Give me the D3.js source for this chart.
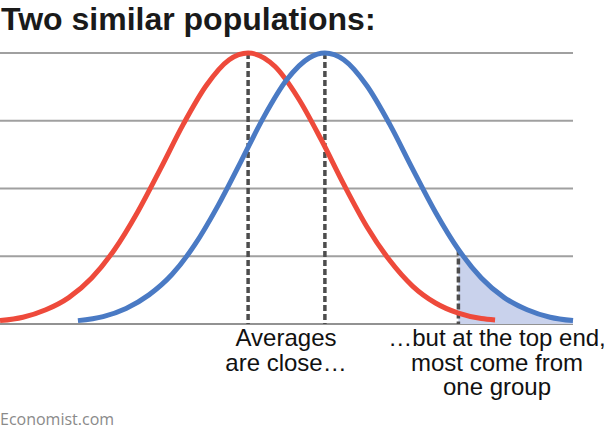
<!DOCTYPE html>
<html>
<head>
<meta charset="utf-8">
<script src="https://cdn.jsdelivr.net/npm/d3@7"></script>
<style>
  body { margin: 0; background: #fff; }
  svg { display: block; }
</style>
</head>
<body>
<svg id="chart"></svg>
<script>
// values (x: arbitrary score units, y: grid units 0-4)
const redX = [0, 4, 8, 12, 16, 20, 24, 28, 32, 36, 40, 43.3, 48, 52, 56, 60, 64, 68, 72, 76, 80, 84, 86.4];
const redY = [0.05, 0.10, 0.21, 0.39, 0.68, 1.10, 1.65, 2.29, 2.95, 3.52, 3.90, 4.00, 3.80, 3.34, 2.73, 2.06, 1.44, 0.94, 0.56, 0.31, 0.16, 0.08, 0.06];
const blueX = [13.6, 18, 22, 26, 30, 34, 38, 42, 46, 50, 54, 56.7, 60, 64, 68, 72, 76, 80, 84, 88, 92, 96, 100];
const blueY = [0.05, 0.11, 0.23, 0.43, 0.73, 1.17, 1.74, 2.39, 3.05, 3.60, 3.93, 4.00, 3.90, 3.52, 2.95, 2.29, 1.65, 1.10, 0.68, 0.39, 0.21, 0.10, 0.05];
const gridValues = [0, 1, 2, 3, 4];
const averages = [43.3, 56.7];
const topCut = 80;

const width = 608;
const height = 439;
const margin = { top: 53, right: 35, bottom: 115, left: 0 };

const svg = d3.select("#chart").attr("width", width).attr("height", height);

const x = d3.scaleLinear()
    .domain([0, 100])
    .range([margin.left, width - margin.right]);

const y = d3.scaleLinear()
    .domain([0, 4])
    .range([height - margin.bottom, margin.top]);

const red = redX.map((v, i) => ({ x: v, y: redY[i] }));
const blue = blueX.map((v, i) => ({ x: v, y: blueY[i] }));

// title
svg.append("text")
    .attr("x", 1)
    .attr("y", 30)
    .attr("font-family", "Liberation Sans, Arial, sans-serif")
    .attr("font-weight", "bold")
    .attr("font-size", "32px")
    .attr("fill", "#1a1a1a")
    .text("Two similar populations:");

// gridlines
svg.append("g")
    .selectAll("line")
    .data(gridValues)
    .join("line")
    .attr("x1", x(0))
    .attr("x2", x(100))
    .attr("y1", d => y(d))
    .attr("y2", d => y(d))
    .attr("stroke", d => d === 0 ? "#6e6e6e" : "#a0a0a0")
    .attr("stroke-width", d => d === 0 ? 1.5 : 2);

const line = d3.line()
    .x(d => x(d.x))
    .y(d => y(d.y))
    .curve(d3.curveMonotoneX);

// shaded top end
const tail = blue.filter(d => d.x >= topCut);
svg.append("path")
    .datum(tail)
    .attr("fill", "#c9d2ec")
    .attr("d", d3.area()
        .x(d => x(d.x))
        .y0(y(0))
        .y1(d => y(d.y))
        .curve(d3.curveMonotoneX));

// dashed markers
const dash = svg.append("g")
    .attr("stroke", "#4d4d4d")
    .attr("stroke-width", 3.5)
    .attr("stroke-dasharray", "6,3");

dash.selectAll("line.avg")
    .data(averages)
    .join("line")
    .attr("class", "avg")
    .attr("x1", d => x(d))
    .attr("x2", d => x(d))
    .attr("y1", y(4))
    .attr("y2", y(0));

dash.append("line")
    .attr("x1", x(topCut))
    .attr("x2", x(topCut))
    .attr("y1", y(blueY[blueX.indexOf(topCut)]))
    .attr("y2", y(0));

// curves
svg.append("path")
    .datum(red)
    .attr("fill", "none")
    .attr("stroke", "#ee4a3b")
    .attr("stroke-width", 5)
    .attr("d", line);

svg.append("path")
    .datum(blue)
    .attr("fill", "none")
    .attr("stroke", "#4a7ac4")
    .attr("stroke-width", 5)
    .attr("d", line);

// annotations
const note = (cx, lines) => {
    const t = svg.append("text")
        .attr("text-anchor", "middle")
        .attr("font-family", "Liberation Sans, Arial, sans-serif")
        .attr("font-size", "24px")
        .attr("fill", "#111");
    lines.forEach((s, i) => {
        t.append("tspan")
            .attr("x", cx)
            .attr("y", 346 + i * 24.5)
            .text(s);
    });
};
note(286, ["Averages", "are close…"]);
note(497, ["…but at the top end,", "most come from", "one group"]);

// source
svg.append("text")
    .attr("x", 0)
    .attr("y", 425)
    .attr("font-family", "Open Sans, sans-serif")
    .attr("font-size", "16px")
    .attr("fill", "#8a8a8a")
    .text("Economist.com");
</script>
</body>
</html>
